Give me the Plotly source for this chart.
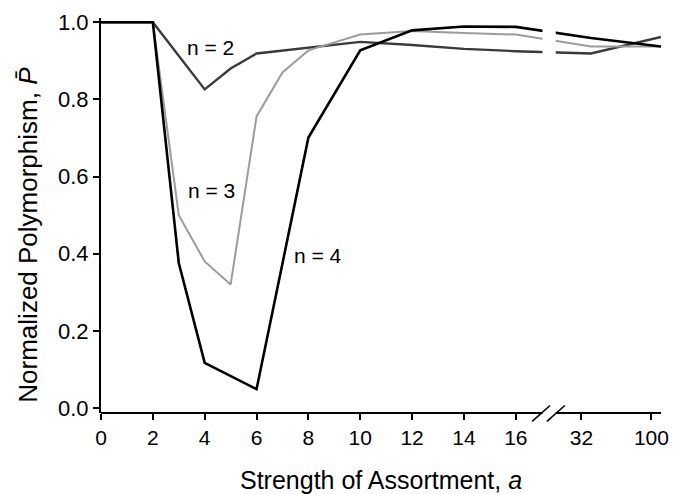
import plotly.graph_objects as go

# ---- data ----
A_N2 = [0, 2, 4, 5, 6, 10, 12, 14, 16, 32, 100]
P_N2 = [1.0, 1.0, 0.826, 0.880, 0.919, 0.949, 0.941, 0.931, 0.925, 0.919, 0.962]

A_N3 = [0, 2, 3, 4, 5, 6, 7, 8, 10, 12, 14, 16, 32, 100]
P_N3 = [1.0, 1.0, 0.50, 0.38, 0.32, 0.756, 0.87, 0.927, 0.968, 0.977, 0.972, 0.968, 0.937, 0.937]

A_N4 = [0, 2, 3, 4, 6, 8, 10, 12, 14, 16, 32, 100]
P_N4 = [1.0, 1.0, 0.376, 0.117, 0.049, 0.701, 0.927, 0.979, 0.989, 0.988, 0.959, 0.937]

X_TICK_VALUES = [0, 2, 4, 6, 8, 10, 12, 14, 16, 32, 100]
X_TICK_LABELS = ["0", "2", "4", "6", "8", "10", "12", "14", "16", "32", "100"]
Y_TICK_VALUES = [0.0, 0.2, 0.4, 0.6, 0.8, 1.0]

# ---- broken x scale: linear up to 16, then compressed ----
TICK_POS_AFTER_BREAK = {32: 18.53, 100: 21.23}
DATA_POS_AFTER_BREAK = {32: 18.9, 100: 21.6}
X_MAX = 21.6
Y_MIN, Y_MAX = -0.0128, 1.011
BREAK_GAP = (17.03, 17.54)


def tick_pos(a):
    return a if a <= 16 else TICK_POS_AFTER_BREAK[a]


def data_pos(a):
    return a if a <= 16 else DATA_POS_AFTER_BREAK[a]


def px(xpos):
    return xpos / X_MAX


def py(yval):
    return (yval - Y_MIN) / (Y_MAX - Y_MIN)


FONT = "Arial, Liberation Sans, Helvetica, sans-serif"

fig = go.Figure()
series = [
    ("n = 2", A_N2, P_N2, "#3a3a3a", 2.4),
    ("n = 3", A_N3, P_N3, "#9c9c9c", 2.0),
    ("n = 4", A_N4, P_N4, "#000000", 2.6),
]
for name, a, p, col, w in series:
    fig.add_trace(go.Scatter(
        x=[data_pos(v) for v in a], y=p, mode="lines", name=name,
        line=dict(color=col, width=w), showlegend=False, cliponaxis=False,
    ))

shapes = [
    # x axis line
    dict(type="line", xref="paper", yref="paper", x0=0, x1=1, y0=0, y1=0,
         line=dict(color="black", width=2)),
    # white gap for the axis break (lines and axis)
    dict(type="rect", xref="paper", yref="paper",
         x0=px(BREAK_GAP[0]), x1=px(BREAK_GAP[1]), y0=-0.01, y1=1.0,
         fillcolor="white", line=dict(width=0), layer="above"),
    # break slashes
    dict(type="line", xref="paper", yref="paper",
         x0=px(16.63), x1=px(17.32), y0=py(-0.0344), y1=py(0.0067),
         line=dict(color="black", width=1.6)),
    dict(type="line", xref="paper", yref="paper",
         x0=px(17.2), x1=px(17.89), y0=py(-0.0344), y1=py(0.0067),
         line=dict(color="black", width=1.6)),
]

annotations = [
    dict(x=4.23, y=0.934, xref="x", yref="y", text="n = 2", showarrow=False,
         font=dict(size=21, color="black", family=FONT)),
    dict(x=4.27, y=0.565, xref="x", yref="y", text="n = 3", showarrow=False,
         font=dict(size=21, color="black", family=FONT)),
    dict(x=8.38, y=0.395, xref="x", yref="y", text="n = 4", showarrow=False,
         font=dict(size=21, color="black", family=FONT)),
    dict(x=0.5, y=-0.17, xref="paper", yref="paper",
         text="Strength of Assortment, <i>a</i>", showarrow=False,
         xanchor="center", yanchor="middle",
         font=dict(size=25, color="black", family=FONT)),
    dict(x=-0.1303, y=0.4515, xref="paper", yref="paper",
         text="Normalized Polymorphism, <i>P\u0304</i>", showarrow=False,
         textangle=-90, xanchor="center", yanchor="middle",
         font=dict(size=26, color="black", family=FONT)),
]

fig.update_layout(
    width=679, height=494,
    margin=dict(l=101, r=10, t=14, b=81, pad=0),
    paper_bgcolor="white", plot_bgcolor="white",
    font=dict(family=FONT, color="black"),
    shapes=shapes, annotations=annotations,
    xaxis=dict(
        range=[0, X_MAX], showline=False, showgrid=False, zeroline=False,
        tickmode="array", tickvals=[tick_pos(v) for v in X_TICK_VALUES],
        ticktext=X_TICK_LABELS, ticks="outside", ticklen=6, tickwidth=2,
        tickcolor="black", tickfont=dict(size=21, family=FONT, color="black"),
    ),
    yaxis=dict(
        range=[Y_MIN, Y_MAX], showline=True, linewidth=2, linecolor="black",
        showgrid=False, zeroline=False, tickmode="array",
        tickvals=Y_TICK_VALUES, tickformat=".1f", ticks="outside", ticklen=6,
        tickwidth=2, tickcolor="black",
        tickfont=dict(size=22, family=FONT, color="black"),
    ),
)

fig.write_html("out.html")
